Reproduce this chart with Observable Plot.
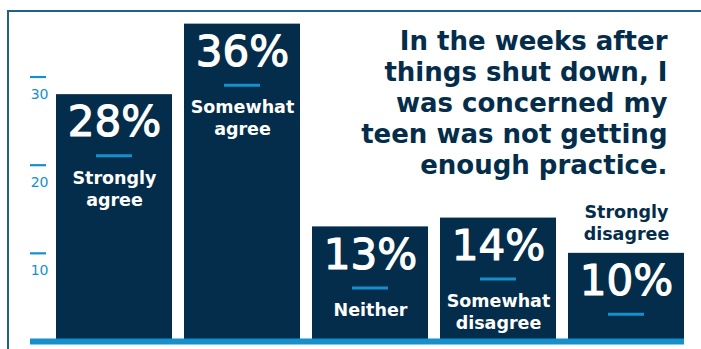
<!DOCTYPE html>
<html>
<head>
<meta charset="utf-8">
<script src="https://cdn.jsdelivr.net/npm/d3@7"></script>
<script src="https://cdn.jsdelivr.net/npm/@observablehq/plot@0.6"></script>
<style>
  html, body { margin: 0; padding: 0; background: #fff; }
  #wrap { position: relative; width: 701px; height: 349px; overflow: hidden; }
  #border { position: absolute; left: 7px; top: 10px; right: -5px; bottom: -5px; border-top: 2.5px solid #22608c; border-left: 2.5px solid #22608c; box-sizing: border-box; }
  #chart { position: absolute; left: 0; top: 0; }
</style>
</head>
<body>
<div id="wrap">
  <div id="border"></div>
  <div id="chart"></div>
</div>
<script>
const categories = ["Strongly agree", "Somewhat agree", "Neither", "Somewhat disagree", "Strongly disagree"];
const values = [28, 36, 13, 14, 10];
const pctLabels = ["28%", "36%", "13%", "14%", "10%"];
const barLabels = ["Strongly\nagree", "Somewhat\nagree", "Neither", "Somewhat\ndisagree", "Strongly\ndisagree"];
const yTicks = [10, 20, 30];
const titleText = "In the weeks after\nthings shut down, I\nwas concerned my\nteen was not getting\nenough practice.";

const navy = "#032d4a";
const accent = "#1590cc";
const font = "DejaVu Sans";

const data = categories.map((c, i) => ({cat: c, val: values[i], pct: pctLabels[i], label: barLabels[i], i}));
const inside = data.filter(d => d.i < data.length - 1);
const outside = data.filter(d => d.i === data.length - 1);

const chart = Plot.plot({
  width: 701,
  height: 349,
  marginLeft: 30,
  marginRight: 17,
  marginTop: 6,
  marginBottom: 8,
  style: {fontFamily: font, background: "transparent", overflow: "visible"},
  x: {domain: categories, paddingInner: 0.095, paddingOuter: 0.09, align: 1, axis: null},
  y: {domain: [0, 38], axis: null},
  marks: [
    Plot.barY(data, {x: "cat", y: "val", fill: navy}),
    Plot.ruleY([0], {stroke: accent, strokeWidth: 6}),
    Plot.axisY(yTicks, {tickSize: 16, dx: 16, tickFormat: () => "", stroke: accent, strokeWidth: 2.2, label: null}),
    Plot.text(yTicks, {y: d => d, text: d => String(d), frameAnchor: "left", dx: 18, dy: 22, textAnchor: "end", lineAnchor: "bottom", fill: accent, fontSize: 14, fontFamily: font}),
    Plot.text(data, {x: "cat", y: "val", text: "pct", dy: 12, lineAnchor: "top", fill: "white", stroke: "white", strokeWidth: 1.2, fontSize: 42, fontWeight: 400, fontFamily: font}),
    Plot.tickY(data, {x: "cat", y: "val", dy: 61, insetLeft: 40, insetRight: 40, stroke: accent, strokeWidth: 3}),
    Plot.text(inside, {x: "cat", y: "val", text: "label", dy: 73, lineAnchor: "top", lineHeight: 1.28, fill: "white", fontSize: 17.5, fontWeight: 700, fontFamily: font}),
    Plot.text(outside, {x: "cat", y: "val", text: "label", dy: -13, lineAnchor: "bottom", lineHeight: 1.25, fill: navy, fontSize: 17.5, fontWeight: 700, fontFamily: font}),
    Plot.text([titleText], {text: d => d, frameAnchor: "top-right", dx: -17, dy: 21, textAnchor: "end", lineAnchor: "top", lineHeight: 1.2, fill: navy, fontSize: 26, fontWeight: 700, fontFamily: font})
  ]
});
document.getElementById("chart").appendChild(chart);
</script>
</body>
</html>
